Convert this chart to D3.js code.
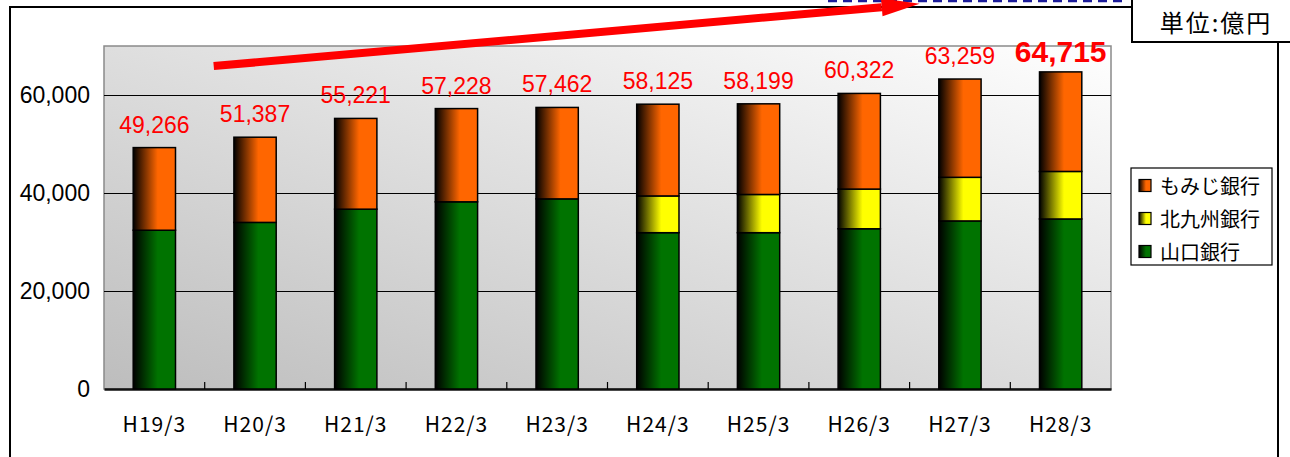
<!DOCTYPE html>
<html>
<head>
<meta charset="utf-8">
<script src="https://cdn.jsdelivr.net/npm/d3@7"></script>
<style>
  body { margin: 0; background: #fff; }
  .num { font-family: "Liberation Sans", Arial, sans-serif; }
  .jp { font-family: "Noto Sans CJK JP", "Noto Sans CJK SC", sans-serif; }
</style>
</head>
<body>
<script>
// data (億円)
var periods = ["H19/3","H20/3","H21/3","H22/3","H23/3","H24/3","H25/3","H26/3","H27/3","H28/3"];
var totals = [49266, 51387, 55221, 57228, 57462, 58125, 58199, 60322, 63259, 64715];
var yamaguchi = [32400, 34000, 36700, 38200, 38800, 31900, 31900, 32700, 34300, 34700];
var kitakyushu = [0, 0, 0, 0, 0, 7500, 7800, 8100, 8900, 9700];
var momiji = [16866, 17387, 18521, 19028, 18662, 18725, 18499, 19522, 20059, 20315];
var seriesNames = ["山口銀行", "北九州銀行", "もみじ銀行"];
var yTicks = [0, 20000, 40000, 60000];
var unitLabel = "単位:億円";

var width = 1290, height = 457;
var plot = {left: 104, right: 1111, top: 46, bottom: 389};

var rows = periods.map(function(p, i) {
  return {period: p, "山口銀行": yamaguchi[i], "北九州銀行": kitakyushu[i], "もみじ銀行": momiji[i], total: totals[i]};
});

var x = d3.scaleBand().domain(periods).range([plot.left, plot.right]).paddingInner(0).paddingOuter(0);
var y = d3.scaleLinear().domain([0, 70000]).range([plot.bottom, plot.top]);

var colors = {"山口銀行": "#007300", "北九州銀行": "#ffff00", "もみじ銀行": "#ff6600"};
var gradIds = {"山口銀行": "gGreen", "北九州銀行": "gYellow", "もみじ銀行": "gOrange"};

var svg = d3.select("body").append("svg").attr("width", width).attr("height", height);
var defs = svg.append("defs");

seriesNames.forEach(function(s) {
  var g = defs.append("linearGradient").attr("id", gradIds[s])
      .attr("x1", 0).attr("y1", 0).attr("x2", 1).attr("y2", 0);
  g.append("stop").attr("offset", "0%").attr("stop-color", "#000");
  g.append("stop").attr("offset", "58%").attr("stop-color", colors[s]);
  g.append("stop").attr("offset", "100%").attr("stop-color", colors[s]);
});

var bg = defs.append("linearGradient").attr("id", "plotBg")
    .attr("x1", 0).attr("y1", 1).attr("x2", 1).attr("y2", 0);
bg.append("stop").attr("offset", "0%").attr("stop-color", "#bdbdbd");
bg.append("stop").attr("offset", "100%").attr("stop-color", "#ffffff");

// outer frame
svg.append("path")
  .attr("d", "M10,457 L10,7 L1132,7")
  .style("fill", "none").style("stroke", "#000").style("stroke-width", 2);
svg.append("line").attr("x1", 1278).attr("x2", 1278).attr("y1", 42).attr("y2", 457)
  .style("stroke", "#000").style("stroke-width", 2);

// dashed line at top
svg.append("line").attr("x1", 828).attr("x2", 1126).attr("y1", 1).attr("y2", 1)
  .style("stroke", "#1c1c9a").style("stroke-width", 2.5).style("stroke-dasharray", "9,6");

// unit box
svg.append("rect").attr("x", 1132).attr("y", -10).attr("width", 200).attr("height", 52)
  .style("fill", "#fff").style("stroke", "#000").style("stroke-width", 2);
svg.append("text").attr("class", "jp")
  .attr("x", 1216).attr("y", 32)
  .attr("font-size", 24)
  .style("text-anchor", "middle").style("letter-spacing", "2px")
  .text(unitLabel);

// plot area
svg.append("rect")
  .attr("x", plot.left).attr("y", plot.top)
  .attr("width", plot.right - plot.left).attr("height", plot.bottom - plot.top)
  .style("fill", "url(#plotBg)").style("stroke", "#8a8a8a").style("stroke-width", 1.5);

// gridlines
svg.append("g").selectAll("line").data(yTicks.filter(function(t) { return t > 0; }))
  .enter().append("line")
  .attr("x1", plot.left).attr("x2", plot.right)
  .attr("y1", function(d) { return Math.round(y(d)) + 0.5; })
  .attr("y2", function(d) { return Math.round(y(d)) + 0.5; })
  .style("stroke", "#000").style("stroke-width", 1);

// y tick labels
svg.append("g").selectAll("text").data(yTicks).enter().append("text")
  .attr("class", "num")
  .attr("x", 90).attr("y", function(d) { return y(d) + 8; })
  .style("text-anchor", "end").style("font-size", "23px").style("fill", "#000")
  .text(function(d) { return d3.format(",")(d); });

// x axis
var xAxis = d3.axisBottom(x).tickSize(0).tickPadding(0).tickFormat("");
svg.append("g").attr("transform", "translate(0," + plot.bottom + ")").call(xAxis)
  .select(".domain").style("stroke", "#111").style("stroke-width", 2.5);

// category boundary ticks (pointing up)
svg.append("g").selectAll("line").data(periods.slice(1)).enter().append("line")
  .attr("x1", function(d) { return x(d); }).attr("x2", function(d) { return x(d); })
  .attr("y1", plot.bottom).attr("y2", plot.bottom - 7)
  .style("stroke", "#000").style("stroke-width", 1.2);

svg.append("g").selectAll("text").data(periods).enter().append("text")
  .attr("class", "jp")
  .attr("x", function(d) { return x(d) + x.bandwidth() / 2; })
  .attr("y", 432)
  .attr("font-size", 21)
  .style("text-anchor", "middle").style("letter-spacing", "1px")
  .text(function(d) { return d; });

// stacked bars
var stack = d3.stack().keys(seriesNames);
var layers = stack(rows);
var barW = x.bandwidth() * 0.42;

svg.append("g").selectAll("g").data(layers).enter().append("g")
  .style("fill", function(d) { return "url(#" + gradIds[d.key] + ")"; })
  .selectAll("rect").data(function(d) { return d; }).enter()
  .filter(function(d) { return d[1] - d[0] > 0; })
  .append("rect")
  .attr("x", function(d) { return x(d.data.period) + (x.bandwidth() - barW) / 2; })
  .attr("width", barW)
  .attr("y", function(d) { return y(d[1]); })
  .attr("height", function(d) { return y(d[0]) - y(d[1]); })
  .style("stroke", "#000").style("stroke-width", 1.5);

// total labels
svg.append("g").selectAll("text").data(rows).enter().append("text")
  .attr("class", "num")
  .attr("x", function(d) { return x(d.period) + x.bandwidth() / 2; })
  .attr("y", function(d, i) { return y(d.total) - (i === rows.length - 1 ? 10 : 15); })
  .style("text-anchor", "middle")
  .style("fill", "#ff0000")
  .style("font-size", function(d, i) { return i === rows.length - 1 ? "30px" : "23px"; })
  .style("font-weight", function(d, i) { return i === rows.length - 1 ? "bold" : "normal"; })
  .text(function(d) { return d3.format(",")(d.total); });

// trend arrow
var ax0 = x("H20/3") + 9, ay0 = y(65900);
var ax1 = x("H27/3") + 10, ay1 = y(78600);
var ang = Math.atan2(ay1 - ay0, ax1 - ax0);
var headLen = 38, headHalf = 9;
var bx = ax1 - headLen * Math.cos(ang), by = ay1 - headLen * Math.sin(ang);
var px = -Math.sin(ang), py = Math.cos(ang);
svg.append("line")
  .attr("x1", ax0).attr("y1", ay0).attr("x2", bx).attr("y2", by)
  .style("stroke", "#ff0000").style("stroke-width", 8);
svg.append("path")
  .attr("d", "M" + ax1 + "," + ay1 +
             "L" + (bx + px * headHalf) + "," + (by + py * headHalf) +
             "L" + (bx - px * headHalf) + "," + (by - py * headHalf) + "Z")
  .style("fill", "#ff0000");

// legend
var legend = svg.append("g").attr("transform", "translate(1131,168)");
legend.append("rect").attr("width", 141).attr("height", 97)
  .style("fill", "#fff").style("stroke", "#000").style("stroke-width", 1.2);
var legendOrder = ["もみじ銀行", "北九州銀行", "山口銀行"];
var items = legend.selectAll("g.item").data(legendOrder).enter().append("g")
  .attr("class", "item")
  .attr("transform", function(d, i) { return "translate(8," + (17.5 + i * 33) + ")"; });
items.append("rect").attr("x", 0).attr("y", -6).attr("width", 12).attr("height", 12)
  .style("fill", function(d) { return "url(#" + gradIds[d] + ")"; })
  .style("stroke", "#000").style("stroke-width", 1.2);
items.append("text").attr("class", "jp")
  .attr("x", 21).attr("y", 8)
  .attr("font-size", 20)
  .text(function(d) { return d; });
</script>
</body>
</html>
